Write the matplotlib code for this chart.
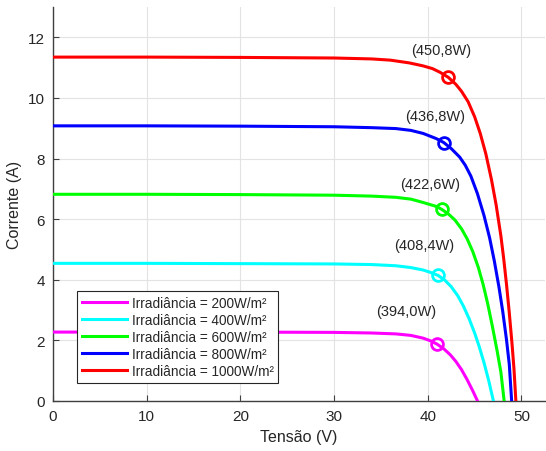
import matplotlib.pyplot as plt

plt.rcParams['font.family'] = ['Liberation Sans', 'DejaVu Sans']

# I-V curves (tensão V, corrente A)
v_200 = [0, 10, 20, 30, 34, 36.6, 38.2, 39.5, 40.3, 41.0, 41.7, 42.4, 43.0, 43.6, 44.2, 44.8, 45.3]
i_200 = [2.27, 2.27, 2.27, 2.26, 2.24, 2.21, 2.16, 2.07, 1.98, 1.87, 1.72, 1.52, 1.30, 1.03, 0.70, 0.33, 0]

v_400 = [0, 10, 20, 30, 34, 36.6, 38.2, 39.5, 40.3, 41.1, 41.8, 42.5, 43.2, 43.8, 44.4, 45.0, 45.5, 46.0, 46.5, 47.0]
i_400 = [4.54, 4.54, 4.53, 4.52, 4.50, 4.46, 4.40, 4.32, 4.24, 4.14, 3.99, 3.77, 3.47, 3.13, 2.72, 2.24, 1.78, 1.26, 0.67, 0]

v_600 = [0, 10, 20, 30, 34, 36.6, 38.2, 39.5, 40.9, 41.5, 42.2, 42.9, 43.6, 44.2, 44.8, 45.4, 45.9, 46.4, 46.9, 47.4, 47.8, 48.15]
i_600 = [6.82, 6.82, 6.81, 6.79, 6.76, 6.72, 6.66, 6.55, 6.42, 6.32, 6.17, 5.97, 5.68, 5.35, 4.93, 4.40, 3.85, 3.20, 2.45, 1.65, 0.95, 0]

v_800 = [0, 10, 20, 30, 34, 36.6, 38.2, 39.5, 40.9, 41.7, 42.5, 43.4, 44.0, 44.6, 45.3, 46.0, 46.6, 47.1, 47.6, 48.0, 48.4, 48.7, 48.95]
i_800 = [9.08, 9.08, 9.07, 9.05, 9.02, 8.99, 8.93, 8.83, 8.66, 8.53, 8.33, 8.05, 7.78, 7.42, 6.84, 6.12, 5.38, 4.62, 3.75, 2.95, 2.02, 1.20, 0]

v_1000 = [0, 10, 20, 30, 34, 36, 38, 39.5, 40.5, 41.3, 42.2, 43.0, 43.6, 44.3, 45.0, 45.6, 46.2, 46.8, 47.3, 47.8, 48.1, 48.4, 48.7, 49.0, 49.2, 49.4]
i_1000 = [11.35, 11.35, 11.34, 11.32, 11.29, 11.25, 11.16, 11.06, 10.97, 10.85, 10.68, 10.45, 10.22, 9.88, 9.38, 8.83, 8.15, 7.30, 6.46, 5.45, 4.70, 3.85, 2.90, 1.85, 1.05, 0]

# maximum power points and their labels
mpp_v = [41.0, 41.1, 41.5, 41.7, 42.2]
mpp_i = [1.87, 4.14, 6.32, 8.53, 10.68]
mpp_labels = ['(394,0W)', '(408,4W)', '(422,6W)', '(436,8W)', '(450,8W)']
label_v = [37.7, 39.6, 40.3, 40.8, 41.4]
label_i = [2.98, 5.16, 7.17, 9.42, 11.6]

legend_labels = ['Irradiância = 200W/m²', 'Irradiância = 400W/m²', 'Irradiância = 600W/m²',
                 'Irradiância = 800W/m²', 'Irradiância = 1000W/m²']
colors = ['#ff00ff', '#00ffff', '#00ff00', '#0000ff', '#ff0000']

curves_v = [v_200, v_400, v_600, v_800, v_1000]
curves_i = [i_200, i_400, i_600, i_800, i_1000]

fig = plt.figure(figsize=(5.46, 4.52), dpi=100)
ax = fig.add_axes([0.097, 0.111, 0.901, 0.871])

for v, i, c, lab in zip(curves_v, curves_i, colors, legend_labels):
    ax.plot(v, i, color=c, linewidth=2.2, label=lab, zorder=3,
            solid_joinstyle='round')

for mv, mi, c in zip(mpp_v, mpp_i, colors):
    ax.plot(mv, mi, 'o', markersize=8.5, markerfacecolor='none',
            markeredgecolor=c, markeredgewidth=2.0, zorder=4)

for lv, li, t in zip(label_v, label_i, mpp_labels):
    ax.text(lv, li, t, ha='center', va='center', fontsize=10.5, color='#262626')

ax.set_xlim(0, 52.5)
ax.set_ylim(0, 13)
ax.set_xticks([0, 10, 20, 30, 40, 50])
ax.set_yticks([0, 2, 4, 6, 8, 10, 12])
ax.grid(True, color='#e3e3e3', linewidth=0.8)
ax.set_axisbelow(True)

for s in ['top', 'right']:
    ax.spines[s].set_visible(False)
for s in ['left', 'bottom']:
    ax.spines[s].set_color('#404040')
    ax.spines[s].set_linewidth(1.0)

ax.tick_params(direction='in', length=4, colors='#404040', labelsize=11,
               labelcolor='#262626', pad=6)
ax.set_xlabel('Tensão (V)', fontsize=11.5, color='#262626', labelpad=4)
ax.set_ylabel('Corrente (A)', fontsize=11.5, color='#262626', labelpad=4)

leg = ax.legend(loc='lower left', bbox_to_anchor=(0.049, 0.046), borderaxespad=0,
                fontsize=9.8, fancybox=False, framealpha=1, edgecolor='#262626',
                handlelength=3.3, handletextpad=0.35, labelspacing=0.22,
                borderpad=0.35)
leg.get_frame().set_linewidth(0.8)
for t in leg.get_texts():
    t.set_color('#262626')

fig.savefig('out.png', dpi=100)
